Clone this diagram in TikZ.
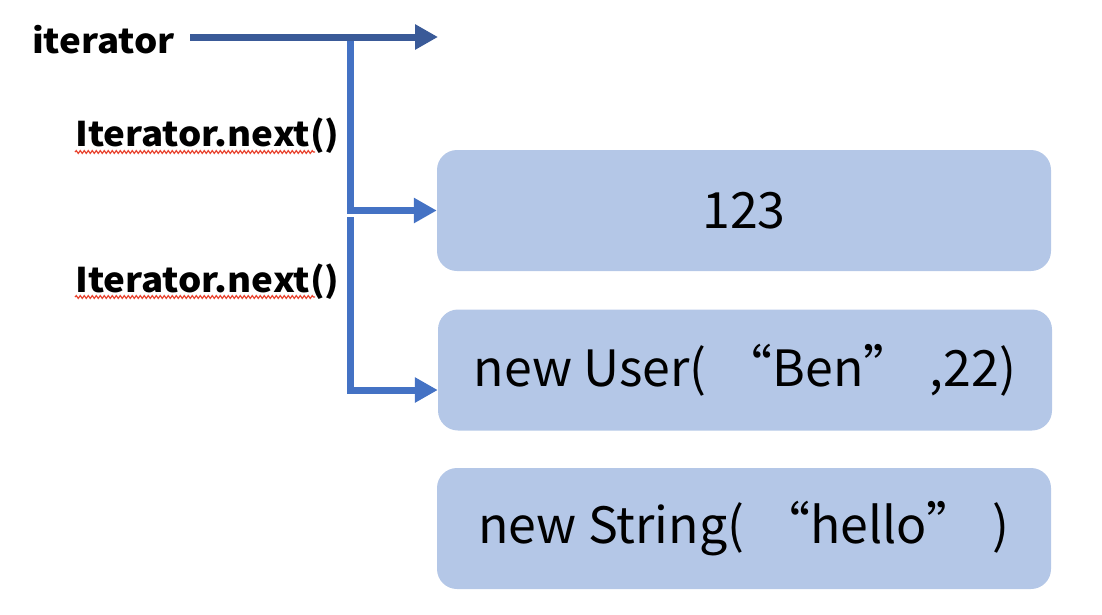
\documentclass[tikz,border=0pt]{standalone}
\usepackage{fontspec}
\setmainfont{Noto Sans CJK SC}
\newfontfamily\lblfont[FakeStretch=1.08]{Noto Sans CJK SC}
\usetikzlibrary{arrows.meta,decorations.pathmorphing}
\definecolor{boxfill}{HTML}{B4C7E7}
\definecolor{darkline}{HTML}{3A5A98}
\definecolor{lightline}{HTML}{4472C4}
\definecolor{squig}{HTML}{E8412C}
\tikzset{
  valbox/.style={fill=boxfill, draw=none, rounded corners=20pt, minimum width=614pt, minimum height=121pt, inner sep=0pt, font=\fontsize{50}{60}\selectfont},
  lbl/.style={anchor=base west, inner sep=0pt, font=\lblfont\fontsize{34}{40}\selectfont\bfseries},
  conn/.style={line width=7pt, -{Triangle[length=23pt,width=24pt]}},
  spell/.style={squig, line width=1.2pt, decorate, decoration={snake, amplitude=1.4pt, segment length=4pt}}
}
\begin{document}
\begin{tikzpicture}[x=1pt,y=-1pt]
\useasboundingbox (0,0) rectangle (1102,614);
\node[valbox] (b1) at (744,210.5) {123};
\node[valbox] (b2) at (745,370) {new User(\hspace{16pt}“Ben”\hspace{16pt},22)};
\node[valbox] (b3) at (744,528.5) {new String(\hspace{16pt}“hello”\hspace{16pt})};
\node[lbl] (it) at (32,53) {iterator};
\node[lbl] (n1) at (75,146) {Iterator.next()};
\node[lbl] (n2) at (75,292) {Iterator.next()};
\draw[spell] (75,152) -- (315,152);
\draw[spell] (75,297) -- (315,297);
\coordinate (topend) at (438,37);
\coordinate (j1) at (350.5,36);
\coordinate (j2) at (350.5,217);
\draw[conn, lightline] (j1) |- (b1.west);
\draw[conn, lightline] (j2) |- ([yshift=-20pt]b2.west);
\draw[conn, darkline] (190,37) -- (topend);
\end{tikzpicture}
\end{document}
